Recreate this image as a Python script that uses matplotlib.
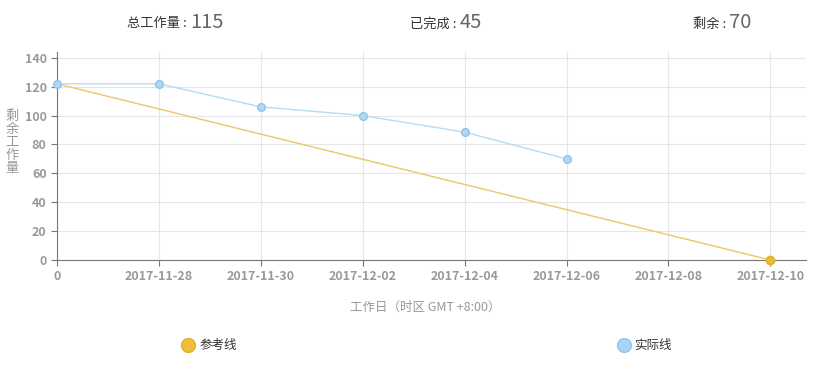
import numpy as np
import matplotlib.pyplot as plt
from matplotlib.lines import Line2D

plt.rcParams['font.family'] = ['Noto Sans CJK SC', 'DejaVu Sans']

# 数据
x_labels = ['0', '2017-11-28', '2017-11-30', '2017-12-02', '2017-12-04',
            '2017-12-06', '2017-12-08', '2017-12-10']
ref_values = [122, 0]          # 参考线：起点与终点
ref_pos = [0, 7]
actual_values = [122, 122, 106, 100, 88.5, 70]   # 实际线
total, done, remain = 115, 45, 70

c_ref = '#EAB935'
c_ref_line = '#EDC764'
c_act_line = '#B3DDF3'
grey = '#999999'

fig = plt.figure(figsize=(8.17, 3.70), dpi=100)
ax = fig.add_axes([57 / 817, 1 - 260 / 370, (806 - 57) / 817, (260 - 52) / 370])

ax.plot(ref_pos, ref_values, color=c_ref_line, lw=1, zorder=3)
ax.plot(ref_pos[-1:], ref_values[-1:], 'o', color=c_ref, ms=6,
        mec='#E0B030', mew=1, zorder=4, clip_on=False)
ax.plot(range(len(actual_values)), actual_values, color=c_act_line, lw=1,
        marker='o', ms=5.5, mfc='#B0D8F3', mec='#8FC3EA', mew=1, zorder=5,
        clip_on=False)

ax.set_xlim(0, 7.35)
ax.set_ylim(0, 144)
ax.set_xticks(range(len(x_labels)))
ax.set_xticklabels(x_labels)
ax.set_yticks(range(0, 141, 20))
ax.grid(True, color='#e6e6e6', lw=0.8)
ax.set_axisbelow(True)
for s in ['top', 'right']:
    ax.spines[s].set_visible(False)
for s in ['left', 'bottom']:
    ax.spines[s].set_color('#777777')
    ax.spines[s].set_linewidth(0.8)
ax.tick_params(colors='#777777', labelcolor=grey, labelsize=9, length=4, width=0.8)
for lbl in ax.get_xticklabels() + ax.get_yticklabels():
    lbl.set_fontweight('semibold')

# 坐标轴标题
fig.text(12 / 817, 1 - 142 / 370, '剩\n余\n工\n作\n量', color=grey, fontsize=9.5,
         ha='center', va='center', linespacing=1.0)
fig.text(425 / 817, 1 - 307 / 370, '工作日（时区 GMT +8:00）', color=grey,
         fontsize=9, ha='center', va='center')

# 顶部统计
def header(xc, label, num):
    fig.text(xc / 817, 1 - 24 / 370, label + ' : ', fontsize=9.5, color='#333333',
             ha='right', va='center')
    fig.text(xc / 817, 1 - 23 / 370, str(num), fontsize=14.5, color='#666666',
             ha='left', va='center')

header(190, '总工作量', total)
header(460, '已完成', done)
header(729, '剩余', remain)

# 图例
fig.text(200 / 817, 1 - 345 / 370, '参考线', fontsize=9, color='#333333', va='center')
fig.text(634 / 817, 1 - 345 / 370, '实际线', fontsize=9, color='#333333', va='center')
fig.lines.append(Line2D([188 / 817], [1 - 345 / 370], transform=fig.transFigure,
                        ls='', marker='o', ms=10, mfc='#F0BE38', mec='#E3B030'))
fig.lines.append(Line2D([624 / 817], [1 - 345 / 370], transform=fig.transFigure,
                        ls='', marker='o', ms=10, mfc='#A8D4F5', mec='#95C6EE'))

plt.savefig('out.png', dpi=100)
plt.close()
